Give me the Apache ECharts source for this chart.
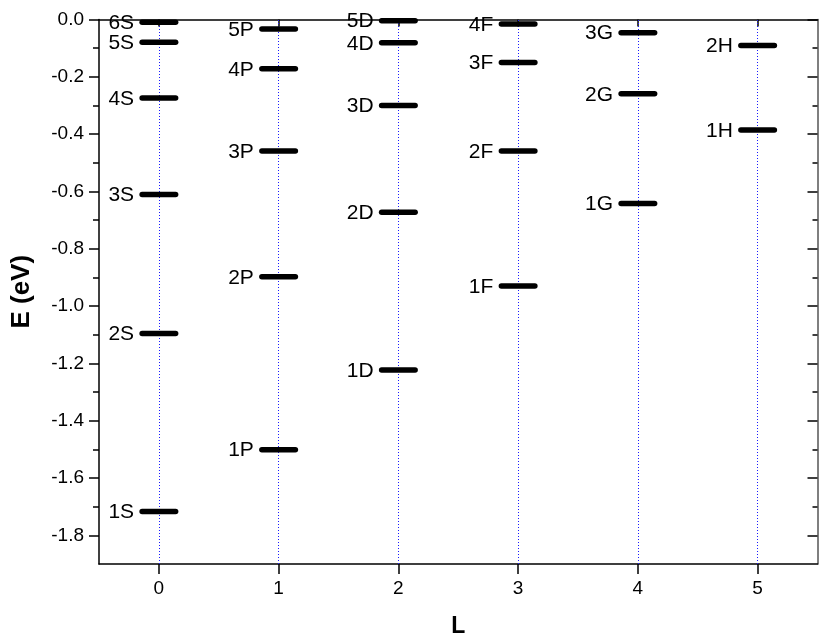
<!DOCTYPE html>
<html><head><meta charset="utf-8">
<script src="https://cdn.jsdelivr.net/npm/echarts@6/dist/echarts.min.js"></script>
<style>html,body{margin:0;padding:0;background:#fff}#c{width:819px;height:643px}</style>
</head><body><div id="c"></div>
<script>
// ---- data ----
const orbitalL = [0, 1, 2, 3, 4, 5];
const levelNames = ['1S','2S','3S','4S','5S','6S',
                    '1P','2P','3P','4P','5P',
                    '1D','2D','3D','4D','5D',
                    '1F','2F','3F','4F',
                    '1G','2G','3G',
                    '1H','2H'];
const levelL = [0,0,0,0,0,0,
                1,1,1,1,1,
                2,2,2,2,2,
                3,3,3,3,
                4,4,4,
                5,5];
const levelE = [-1.717,-1.096,-0.611,-0.274,-0.079,-0.010,
                -1.501,-0.898,-0.459,-0.172,-0.033,
                -1.223,-0.673,-0.300,-0.081,-0.004,
                -0.930,-0.459,-0.150,-0.016,
                -0.642,-0.259,-0.046,
                -0.386,-0.091];
const xTickValues = [0, 1, 2, 3, 4, 5];
const yMajorTicks = [0, -0.2, -0.4, -0.6, -0.8, -1.0, -1.2, -1.4, -1.6, -1.8];
const yMinorTicks = [-0.1, -0.3, -0.5, -0.7, -0.9, -1.1, -1.3, -1.5, -1.7];

// ---- chart ----
const HALF = 0.14;
const FONT = '"Liberation Sans", Arial, Helvetica, sans-serif';
const chart = echarts.init(document.getElementById('c'), null, {renderer: 'canvas'});

function renderItem(params, api) {
  const L = api.value(0), E = api.value(1);
  const p1 = api.coord([L - HALF, E]);
  const p2 = api.coord([L + HALF, E]);
  return {
    type: 'group',
    children: [
      {type: 'line', shape: {x1: p1[0], y1: p1[1], x2: p2[0], y2: p2[1]},
       style: {stroke: '#000', lineWidth: 5.5, lineCap: 'round'}},
      {type: 'text', style: {text: levelNames[params.dataIndex], x: p1[0] - 8, y: p1[1] + 1,
        align: 'right', verticalAlign: 'middle', font: '21px ' + FONT, fill: '#000'}}
    ]
  };
}

const axisLineStyle = {color: '#000', width: 1.5};
const baseX = {type: 'value', min: -0.5, max: 5.5, splitLine: {show: false}};
const baseY = {type: 'value', min: -1.9, max: 0, splitLine: {show: false}};

chart.setOption({
  animation: false,
  backgroundColor: '#fff',
  grid: {left: 99, top: 19.5, right: 1.5, bottom: 75, containLabel: false},
  xAxis: [
    Object.assign({}, baseX, {
      position: 'bottom',
      name: 'L', nameLocation: 'middle', nameGap: 51,
      nameTextStyle: {fontSize: 23, fontWeight: 'bold', color: '#000', fontFamily: FONT},
      axisLine: {show: true, onZero: false, lineStyle: axisLineStyle},
      axisTick: {show: true, inside: false, length: 10, customValues: xTickValues, lineStyle: axisLineStyle},
      axisLabel: {show: true, customValues: xTickValues, fontSize: 19, color: '#000', fontFamily: FONT, margin: 15}
    }),
    Object.assign({}, baseX, {
      position: 'top',
      axisLine: {show: true, onZero: false, lineStyle: axisLineStyle},
      axisTick: {show: true, inside: true, length: 7, customValues: xTickValues, lineStyle: axisLineStyle},
      axisLabel: {show: false}
    })
  ],
  yAxis: [
    Object.assign({}, baseY, {
      position: 'left',
      name: 'E (eV)', nameLocation: 'middle', nameGap: 64, nameRotate: 90,
      nameTextStyle: {fontSize: 26, fontWeight: 'bold', color: '#000', fontFamily: FONT},
      axisLine: {show: true, onZero: false, lineStyle: axisLineStyle},
      axisTick: {show: true, inside: false, length: 10, customValues: yMajorTicks, lineStyle: axisLineStyle},
      axisLabel: {show: true, customValues: yMajorTicks, fontSize: 19, color: '#000', fontFamily: FONT, margin: 15,
        formatter: v => v.toFixed(1)}
    }),
    Object.assign({}, baseY, {
      position: 'left',
      axisLine: {show: false, onZero: false},
      axisTick: {show: true, inside: false, length: 6, customValues: yMinorTicks, lineStyle: axisLineStyle},
      axisLabel: {show: false}
    }),
    Object.assign({}, baseY, {
      position: 'right',
      axisLine: {show: true, onZero: false, lineStyle: {color: '#555', width: 1.5}},
      axisTick: {show: true, inside: true, length: 10, customValues: yMajorTicks, lineStyle: axisLineStyle},
      axisLabel: {show: false}
    }),
    Object.assign({}, baseY, {
      position: 'right',
      axisLine: {show: false, onZero: false},
      axisTick: {show: true, inside: true, length: 5, customValues: yMinorTicks, lineStyle: axisLineStyle},
      axisLabel: {show: false}
    })
  ],
  series: [
    {
      type: 'line', data: [], z: 1, silent: true,
      markLine: {
        silent: true, symbol: ['none', 'none'], label: {show: false},
        lineStyle: {color: '#1a1aff', type: [1, 2], width: 1},
        data: orbitalL.map(l => ({xAxis: l}))
      }
    },
    {
      type: 'custom', z: 5, renderItem: renderItem,
      data: levelL.map((l, i) => [l, levelE[i]])
    }
  ]
});
</script>
</body></html>
